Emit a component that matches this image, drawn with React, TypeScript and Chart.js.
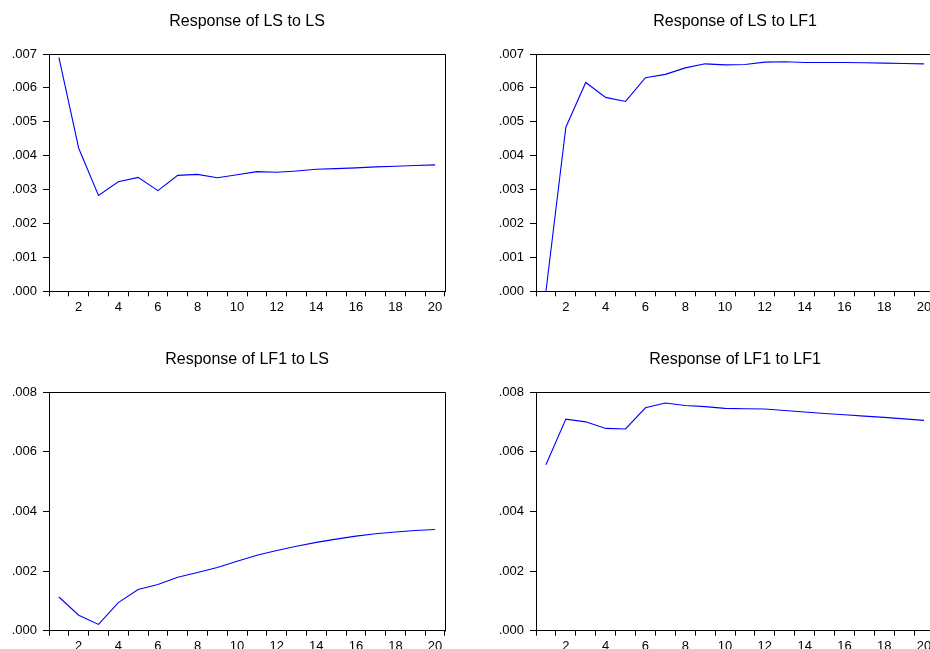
import { useEffect, useRef } from "react";
import { Chart, ChartConfiguration, Plugin, registerables } from "chart.js";

Chart.register(...registerables);

const periods = ["1", "2", "3", "4", "5", "6", "7", "8", "9", "10", "11", "12", "13", "14", "15", "16", "17", "18", "19", "20"];

const lsToLs = [0.0069, 0.00422, 0.00283, 0.00323, 0.00336, 0.00297, 0.00342, 0.00345, 0.00335, 0.00344, 0.00353, 0.00351, 0.00355, 0.0036, 0.00362, 0.00364, 0.00367, 0.00369, 0.00371, 0.00373];
const lsToLf1 = [0.0, 0.00484, 0.00616, 0.00572, 0.0056, 0.0063, 0.0064, 0.00659, 0.00671, 0.00668, 0.00669, 0.00676, 0.00677, 0.00675, 0.00675, 0.00675, 0.00674, 0.00673, 0.00672, 0.00671];
const lf1ToLs = [0.00113, 0.00052, 0.00021, 0.00094, 0.00138, 0.00155, 0.00179, 0.00195, 0.00212, 0.00233, 0.00253, 0.00269, 0.00283, 0.00296, 0.00307, 0.00317, 0.00325, 0.00331, 0.00336, 0.00339];
const lf1ToLf1 = [0.00556, 0.00709, 0.007, 0.00678, 0.00676, 0.00747, 0.00763, 0.00755, 0.00751, 0.00745, 0.00744, 0.00743, 0.00738, 0.00733, 0.00728, 0.00724, 0.00719, 0.00715, 0.0071, 0.00705];

const FONT = "'Liberation Sans', Arial, sans-serif";

// top and right edges of the plot box (left and bottom come from the axes)
const frame: Plugin = {
  id: "frame",
  afterDraw(chart) {
    const { ctx, chartArea: a } = chart;
    const l = Math.round(a.left) + 0.5;
    const t = Math.round(a.top) + 0.5;
    const r = Math.round(a.right) + 0.5;
    const b = Math.round(a.bottom) + 0.5;
    ctx.save();
    ctx.strokeStyle = "#000";
    ctx.lineWidth = 1;
    ctx.beginPath();
    ctx.moveTo(l, t);
    ctx.lineTo(r, t);
    ctx.lineTo(r, b);
    ctx.stroke();
    ctx.restore();
  },
};

const fmt = (v: number) => (Math.round(v * 1000) / 1000).toFixed(3).replace(/^0/, "");

interface PanelProps {
  title: string;
  values: number[];
  max: number;
  step: number;
  left: number;
  top: number;
  width: number;
  height: number;
  padLeft: number;
  padRight: number;
  titleTop: number;
  padBottom: number;
}

function Panel(p: PanelProps) {
  const canvasRef = useRef<HTMLCanvasElement>(null);
  const chartRef = useRef<Chart | null>(null);

  useEffect(() => {
    if (!canvasRef.current) return;
    const ctx = canvasRef.current.getContext("2d");
    if (!ctx) return;
    if (chartRef.current) chartRef.current.destroy();

    const config: ChartConfiguration = {
      type: "line",
      data: {
        labels: periods,
        datasets: [{
          data: p.values,
          borderColor: "#0000ff",
          borderWidth: 1.1,
          pointRadius: 0,
          tension: 0,
          fill: false,
        }],
      },
      plugins: [frame],
      options: {
        animation: false,
        responsive: false,
        layout: { padding: { left: p.padLeft, right: p.padRight, top: 0, bottom: p.padBottom } },
        plugins: {
          legend: { display: false },
          tooltip: { enabled: false },
          title: {
            display: true,
            text: p.title,
            fullSize: false,
            color: "#000",
            font: { family: FONT, size: 16, weight: "normal" },
            padding: { top: p.titleTop, bottom: 22.4 },
          },
        },
        scales: {
          x: {
            type: "category",
            offset: true,
            afterFit: (scale) => { scale.height = 30; },
            grid: { offset: true, drawOnChartArea: false, drawTicks: true, tickLength: 5, color: "#000" },
            border: { display: true, color: "#000" },
            ticks: {
              autoSkip: false,
              maxRotation: 0,
              padding: 3,
              color: "#000",
              font: { family: FONT, size: 13 },
              callback: (_v, i) => (i % 2 === 1 ? periods[i] : ""),
            },
          },
          y: {
            min: 0,
            max: p.max,
            afterFit: (scale) => { scale.width = 49; },
            grid: { drawOnChartArea: false, tickLength: 6, color: "#000" },
            border: { display: true, color: "#000" },
            ticks: {
              stepSize: p.step,
              padding: 6,
              color: "#000",
              font: { family: FONT, size: 13 },
              callback: (v) => fmt(Number(v)),
            },
          },
        },
      },
    };

    chartRef.current = new Chart(ctx, config);
    return () => {
      if (chartRef.current) {
        chartRef.current.destroy();
        chartRef.current = null;
      }
    };
  }, []);

  return (
    <div style={{ position: "absolute", left: p.left, top: p.top, width: p.width, height: p.height }}>
      <canvas ref={canvasRef} width={p.width} height={p.height} style={{ width: p.width, height: p.height }}></canvas>
    </div>
  );
}

export default function App() {
  return (
    <div style={{ position: "fixed", left: 0, top: 0, width: 930, height: 649, overflow: "hidden", background: "#fff" }}>
      <Panel title="Response of LS to LS" values={lsToLs} max={0.007} step={0.001}
        left={0} top={0} width={465} height={330} padLeft={0} padRight={20} titleTop={12.4} padBottom={8.7} />
      <Panel title="Response of LS to LF1" values={lsToLf1} max={0.007} step={0.001}
        left={465} top={0} width={505} height={330} padLeft={22} padRight={36} titleTop={12.4} padBottom={8.7} />
      <Panel title="Response of LF1 to LS" values={lf1ToLs} max={0.008} step={0.002}
        left={0} top={330} width={465} height={340} padLeft={0} padRight={20} titleTop={20.4} padBottom={9.3} />
      <Panel title="Response of LF1 to LF1" values={lf1ToLf1} max={0.008} step={0.002}
        left={465} top={330} width={505} height={340} padLeft={22} padRight={36} titleTop={20.4} padBottom={9.3} />
    </div>
  );
}
